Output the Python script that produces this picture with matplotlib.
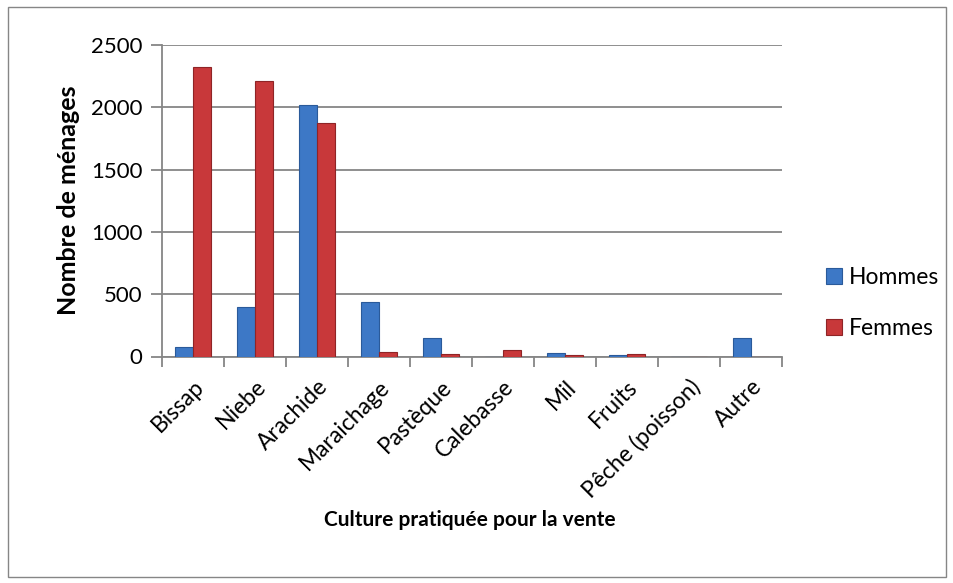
import matplotlib
matplotlib.use("Agg")
import matplotlib.pyplot as plt
import matplotlib.transforms as mtransforms
import numpy as np
from matplotlib.patches import Rectangle

categories = ["Bissap", "Niebe", "Arachide", "Maraichage", "Pastèque", "Calebasse",
              "Mil", "Fruits", "Pêche (poisson)", "Autre"]
hommes = [75, 400, 2020, 435, 145, 0, 30, 12, 0, 145]
femmes = [2320, 2210, 1870, 40, 22, 55, 16, 24, 0, 0]
yticks = [0, 500, 1000, 1500, 2000, 2500]

plt.rcParams['font.family'] = ['Lato', 'DejaVu Sans']

fig = plt.figure(figsize=(9.54, 5.83), dpi=100)
ax = fig.add_axes([162/954, 1-356.5/583, 620/954, (356.5-45)/583])

x = np.arange(len(categories))
w = 0.29
ax.bar(x - w/2, hommes, width=w, color="#3d78c6", edgecolor="#2a5a9a", linewidth=0.8,
       label="Hommes", zorder=3)
ax.bar(x + w/2, femmes, width=w, color="#c8383a", edgecolor="#8f2426", linewidth=0.8,
       label="Femmes", zorder=3)

ax.set_xlim(-0.5, len(categories) - 0.5)
ax.set_ylim(0, 2500)
ax.set_yticks(yticks)
ax.set_yticklabels([str(v) for v in yticks], fontsize=16)
ax.yaxis.grid(True, color="#868686", linewidth=1.3, zorder=0)
ax.set_axisbelow(True)

ax.set_xticks(np.arange(-0.5, len(categories), 1.0))
ax.set_xticklabels([])
ax.set_xticks(x, minor=True)
labels = ax.set_xticklabels(categories, minor=True, rotation=45, ha="right", va="top",
                            rotation_mode="anchor", fontsize=16.5)
offset = mtransforms.ScaledTranslation(7/100, 0, fig.dpi_scale_trans)
for lab in labels:
    lab.set_transform(lab.get_transform() + offset)
ax.tick_params(axis="x", which="minor", length=0, pad=14)
ax.tick_params(axis="x", which="major", length=7, width=1.3, color="#868686")
ax.tick_params(axis="y", length=8, width=1.3, color="#868686", pad=6)

for s in ["top", "right"]:
    ax.spines[s].set_visible(False)
for s in ["left", "bottom"]:
    ax.spines[s].set_color("#868686")
    ax.spines[s].set_linewidth(1.3)

ax.set_ylabel("Nombre de ménages", fontsize=18, fontweight="bold", labelpad=8)
fig.text(470/954, 1-520/583, "Culture pratiquée pour la vente", fontsize=15,
         fontweight="bold", ha="center", va="center")

leg = ax.legend(loc="center left", bbox_to_anchor=(815/954, 1-303/583),
                bbox_transform=fig.transFigure, frameon=False, fontsize=16.5,
                handlelength=0.7, handleheight=0.7, handletextpad=0.3,
                labelspacing=1.3, borderpad=0)

fig.patches.append(Rectangle((8/954, 6/583), 938/954, 570/583, transform=fig.transFigure,
                             fill=False, edgecolor="#868686", linewidth=1.0))

fig.savefig("out.png", dpi=100)
